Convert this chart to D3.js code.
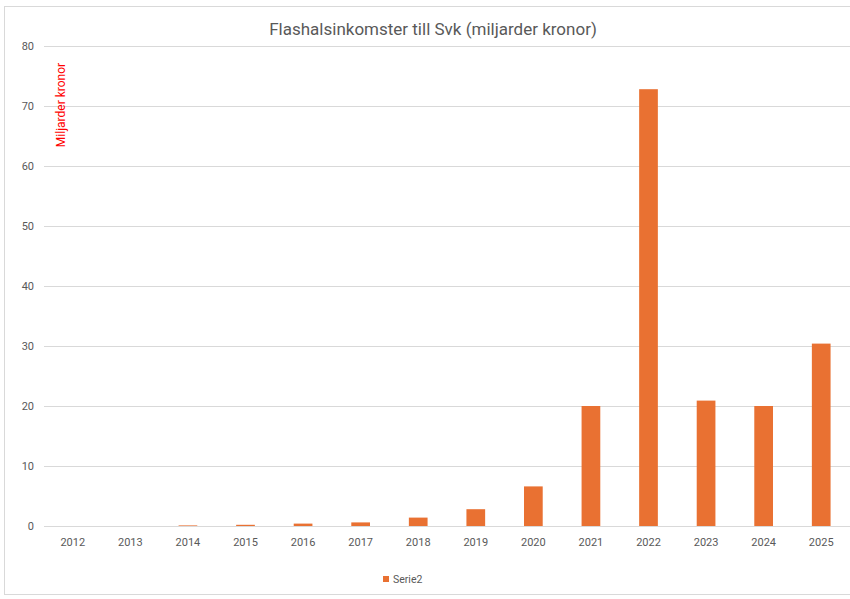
<!DOCTYPE html>
<html>
<head>
<meta charset="utf-8">
<script src="https://cdn.jsdelivr.net/npm/d3@7"></script>
<style>
  body { margin: 0; background: #fff; }
  text { font-family: Roboto, "Open Sans", sans-serif; }
</style>
</head>
<body>
<svg id="chart" width="850" height="599"></svg>
<script>
const years = ['2012', '2013', '2014', '2015', '2016', '2017', '2018', '2019', '2020', '2021', '2022', '2023', '2024', '2025'];
const serie2 = [0, 0, 0.1, 0.2, 0.4, 0.6, 1.4, 2.8, 6.6, 20, 72.8, 20.9, 20, 30.4];
const yTicks = [0, 10, 20, 30, 40, 50, 60, 70, 80];

const svg = d3.select('#chart');
const margin = { top: 46, right: 0, bottom: 73, left: 44 };
const width = 850 - margin.left - margin.right;
const height = 599 - margin.top - margin.bottom;

// chart frame
svg.append('rect')
  .attr('x', 4.5).attr('y', 6.5)
  .attr('width', 850).attr('height', 588)
  .attr('fill', '#fff')
  .attr('stroke', '#d9d9d9');

const g = svg.append('g')
  .attr('transform', `translate(${margin.left},${margin.top})`);

const x = d3.scaleBand()
  .domain(years)
  .range([0, width])
  .paddingInner(0.675)
  .paddingOuter(0.3375);

const y = d3.scaleLinear()
  .domain([0, 80])
  .range([480, 0]);

// gridlines
g.selectAll('.grid')
  .data(yTicks)
  .join('line')
  .attr('x1', 0).attr('x2', width)
  .attr('y1', d => Math.round(y(d)) + 0.5)
  .attr('y2', d => Math.round(y(d)) + 0.5)
  .attr('stroke', '#d9d9d9');

// y axis labels
g.selectAll('.ytick')
  .data(yTicks)
  .join('text')
  .attr('x', -10)
  .attr('y', d => y(d))
  .attr('dy', '0.35em')
  .attr('text-anchor', 'end')
  .attr('fill', '#595959')
  .style('font-size', '11px')
  .text(d => d);

// bars
g.selectAll('.bar')
  .data(serie2)
  .join('rect')
  .attr('x', (d, i) => x(years[i]))
  .attr('y', d => y(d))
  .attr('width', x.bandwidth())
  .attr('height', d => y(0) - y(d))
  .attr('fill', '#e97132');

// x axis labels
g.selectAll('.xtick')
  .data(years)
  .join('text')
  .attr('x', d => x(d) + x.bandwidth() / 2)
  .attr('y', 480 + 20)
  .attr('text-anchor', 'middle')
  .attr('fill', '#595959')
  .style('font-size', '11px')
  .text(d => d);

// title
svg.append('text')
  .attr('x', 433)
  .attr('y', 35)
  .attr('text-anchor', 'middle')
  .attr('fill', '#595959')
  .style('font-size', '17px')
  .text('Flashalsinkomster till Svk (miljarder kronor)');

// y axis title (red, rotated)
svg.append('text')
  .attr('transform', 'translate(65,105) rotate(-90)')
  .attr('text-anchor', 'middle')
  .attr('fill', '#ff0000')
  .style('font-size', '12px')
  .text('Miljarder kronor');

// legend
const legend = svg.append('g')
  .attr('transform', 'translate(383,576)');
legend.append('rect')
  .attr('width', 6).attr('height', 6)
  .attr('fill', '#e97132');
legend.append('text')
  .attr('x', 10).attr('y', 3)
  .attr('dy', '0.35em')
  .attr('fill', '#595959')
  .style('font-size', '10.5px')
  .text('Serie2');
</script>
</body>
</html>
